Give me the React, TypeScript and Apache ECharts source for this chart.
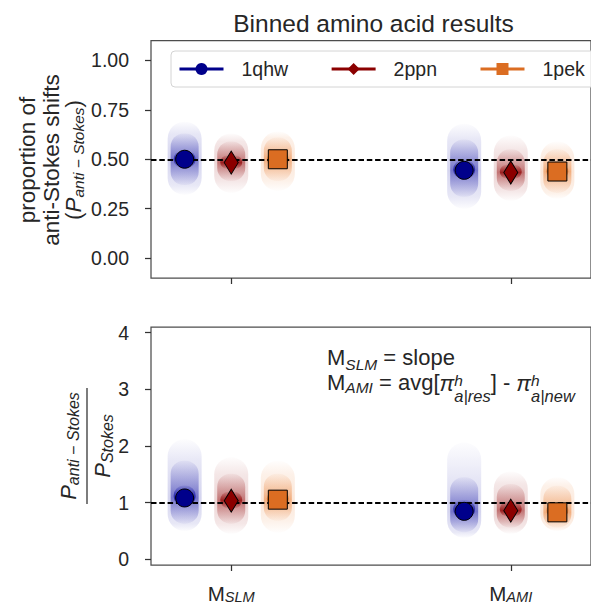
import React, { useEffect, useRef } from 'react';
import * as echarts from 'echarts';

// ---------- data ----------
const seriesNames = ['1qhw', '2ppn', '1pek'];
const categoryPositions = [0, 1];
const categorySubscripts = ['SLM', 'AMI'];
const topTicks = [0, 0.25, 0.5, 0.75, 1.0];
const bottomTicks = [0, 1, 2, 3, 4];
const topReference = 0.5;
const bottomReference = 1;

// mean markers (per category: M_SLM, M_AMI)
const topMean1qhw = [0.5, 0.444];
const topMean2ppn = [0.483, 0.433];
const topMean1pek = [0.5, 0.438];
const bottomMean1qhw = [1.083, 0.847];
const bottomMean2ppn = [1.035, 0.859];
const bottomMean1pek = [1.053, 0.829];

// sample clouds per category: [low, dense low, dense high, high]
const topCloud1qhw = [[0.32, 0.37, 0.63, 0.69], [0.25, 0.31, 0.6, 0.68]];
const topCloud2ppn = [[0.33, 0.39, 0.59, 0.63], [0.29, 0.34, 0.55, 0.62]];
const topCloud1pek = [[0.34, 0.39, 0.61, 0.64], [0.3, 0.33, 0.55, 0.59]];
const bottomCloud1qhw = [[0.5, 0.63, 1.74, 2.12], [0.38, 0.48, 1.45, 2.06]];
const bottomCloud2ppn = [[0.45, 0.63, 1.51, 1.8], [0.45, 0.56, 1.33, 1.55]];
const bottomCloud1pek = [[0.47, 0.68, 1.51, 1.74], [0.5, 0.56, 1.3, 1.45]];

// ---------- styling ----------
const FONT = '"Liberation Sans", Arial, Helvetica, sans-serif';
const TEXT = '#262626';
const SPINE = '#4d4d4d';
const colors = ['#00008b', '#8b0000', '#db6d22'];
const cloudRGB = [[20, 20, 165], [150, 18, 18], [232, 118, 38]];
const symbols = ['circle', 'diamond', 'rect'];
const symbolSizes: any[] = [18, [14, 23], 19];
const offsets = [-1 / 6, 0, 1 / 6];

const topMeans = [topMean1qhw, topMean2ppn, topMean1pek];
const bottomMeans = [bottomMean1qhw, bottomMean2ppn, bottomMean1pek];
const topClouds = [topCloud1qhw, topCloud2ppn, topCloud1pek];
const bottomClouds = [bottomCloud1qhw, bottomCloud2ppn, bottomCloud1pek];

let measureCtx: CanvasRenderingContext2D | null = null;
function measure(t: string, size: number, italic?: boolean) {
  if (!measureCtx) measureCtx = document.createElement('canvas').getContext('2d');
  if (!measureCtx) return t.length * size * 0.55;
  measureCtx.font = `${italic ? 'italic ' : ''}${size}px ${FONT}`;
  return measureCtx.measureText(t).width;
}

type Piece = { t: string; s: number; i?: boolean; dy?: number; stack?: boolean };
function mathRow(pieces: Piece[], align: 'left' | 'center', ox: number, oy: number) {
  const items: { p: Piece; x: number }[] = [];
  let x = 0;
  let pending = 0;
  for (const p of pieces) {
    const w = measure(p.t, p.s, p.i);
    items.push({ p, x });
    if (p.stack) pending = w;
    else {
      x += Math.max(w, pending);
      pending = 0;
    }
  }
  const shift = align === 'center' ? -x / 2 : 0;
  return items.map(({ p, x: px }) => ({
    type: 'text',
    x: ox + px + shift,
    y: oy + (p.dy || 0),
    silent: true,
    style: {
      text: p.t,
      fontSize: p.s,
      fontFamily: FONT,
      fontStyle: p.i ? 'italic' : 'normal',
      fill: TEXT,
      align: 'left',
      textAlign: 'left',
      verticalAlign: 'middle',
      textVerticalAlign: 'middle',
    },
  }));
}

function vGrad(stops: [number, string][]) {
  return {
    type: 'linear', x: 0, y: 0, x2: 0, y2: 1,
    colorStops: stops.map(([offset, color]) => ({ offset: Math.min(1, Math.max(0, offset)), color })),
  };
}

function renderCloud(rgb: number[]) {
  return (params: any, api: any) => {
    const x = api.value(0);
    const lo = api.value(1);
    const dLo = api.value(2);
    const m = api.value(3);
    const dHi = api.value(4);
    const hi = api.value(5);
    const pHi = api.coord([x, hi]);
    const cx = pHi[0];
    const yHi = pHi[1];
    const yLo = api.coord([x, lo])[1];
    const yDLo = api.coord([x, dLo])[1];
    const yDHi = api.coord([x, dHi])[1];
    const yM = api.coord([x, m])[1];
    const c = (a: number) => `rgba(${rgb[0]},${rgb[1]},${rgb[2]},${a})`;
    const h = yLo - yHi;
    const ch = yDLo - yDHi;
    const yCHi = (yDHi + 2 * yM) / 3;
    const yCLo = (yDLo + 2 * yM) / 3;
    const cch = yCLo - yCHi;
    return {
      type: 'group',
      children: [
        {
          type: 'rect',
          shape: { x: cx - 17, y: yHi, width: 34, height: h, r: 17 },
          style: {
            fill: vGrad([
              [0, c(0.01)],
              [(yDHi - yHi) / h, c(0.1)],
              [(yM - yHi) / h, c(0.18)],
              [(yDLo - yHi) / h, c(0.1)],
              [1, c(0.01)],
            ]),
          },
        },
        {
          type: 'rect',
          shape: { x: cx - 14, y: yDHi, width: 28, height: ch, r: 13 },
          style: {
            fill: vGrad([
              [0, c(0.04)],
              [(yM - yDHi) / ch, c(0.5)],
              [1, c(0.04)],
            ]),
          },
        },
        {
          type: 'rect',
          shape: { x: cx - 11, y: yCHi, width: 22, height: cch, r: 10 },
          style: {
            fill: vGrad([
              [0, c(0.1)],
              [(yM - yCHi) / cch, c(0.85)],
              [1, c(0.1)],
            ]),
          },
        },
      ],
    };
  };
}

function buildSeries() {
  const series: any[] = [];
  const panels = [
    { means: topMeans, clouds: topClouds, ref: topReference },
    { means: bottomMeans, clouds: bottomClouds, ref: bottomReference },
  ];
  panels.forEach((panel, p) => {
    seriesNames.forEach((name, s) => {
      series.push({
        name,
        type: 'line',
        xAxisIndex: p,
        yAxisIndex: p,
        z: 3,
        symbol: symbols[s],
        symbolSize: symbolSizes[s],
        showSymbol: true,
        showAllSymbol: true,
        lineStyle: { width: 0, color: colors[s] },
        itemStyle: { color: colors[s], borderColor: '#000', borderWidth: 1 },
        emphasis: { disabled: true },
        data: categoryPositions.map((c, i) => [c + offsets[s], panel.means[s][i]]),
        markLine:
          s === 0
            ? {
                silent: true,
                symbol: 'none',
                z: 2,
                label: { show: false },
                lineStyle: { type: [5.5, 2.8], color: '#000', width: 1.8 },
                emphasis: { disabled: true },
                data: [{ yAxis: panel.ref }],
              }
            : undefined,
      });
    });
    seriesNames.forEach((name, s) => {
      series.push({
        name: `${name} samples`,
        type: 'custom',
        xAxisIndex: p,
        yAxisIndex: p,
        z: 1,
        silent: true,
        renderItem: renderCloud(cloudRGB[s]),
        encode: { x: 0, y: 3 },
        data: categoryPositions.map((c, i) => {
          const cl = panel.clouds[s][i];
          return [c + offsets[s], cl[0], cl[1], panel.means[s][i], cl[2], cl[3]];
        }),
      });
    });
  });
  return series;
}

const tickStyle = { color: '#333', width: 1.25 };
const labelStyle = { fontSize: 19.5, color: TEXT, fontFamily: FONT };

export default function App() {
  const ref = useRef<HTMLDivElement>(null);
  useEffect(() => {
    if (!ref.current) return;
    const chart = echarts.init(ref.current, undefined, { renderer: 'svg' });
    const xAxisBase = {
      type: 'value',
      min: -0.287,
      max: 1.287,
      position: 'bottom',
      axisLine: { show: false, onZero: false },
      splitLine: { show: false },
      axisTick: { show: true, length: 6, customValues: categoryPositions, lineStyle: tickStyle },
      axisLabel: { show: false },
    };
    const option: any = {
      animation: false,
      grid: [
        { left: 151, right: -4, top: 40.5, height: 237.5, show: true, borderColor: SPINE, borderWidth: 1.25, backgroundColor: 'transparent' },
        { left: 151, right: -4, top: 327, height: 238, show: true, borderColor: SPINE, borderWidth: 1.25, backgroundColor: 'transparent' },
      ],
      xAxis: [
        { ...xAxisBase, gridIndex: 0 },
        { ...xAxisBase, gridIndex: 1 },
      ],
      yAxis: [
        {
          type: 'value', gridIndex: 0, min: -0.1, max: 1.1, position: 'left',
          axisLine: { show: false, onZero: false }, splitLine: { show: false },
          axisTick: { show: true, length: 6, customValues: topTicks, lineStyle: tickStyle },
          axisLabel: { ...labelStyle, customValues: topTicks, margin: 22, formatter: (v: number) => v.toFixed(2) },
        },
        {
          type: 'value', gridIndex: 1, min: -0.1, max: 4.1, position: 'left',
          axisLine: { show: false, onZero: false }, splitLine: { show: false },
          axisTick: { show: true, length: 6, customValues: bottomTicks, lineStyle: tickStyle },
          axisLabel: { ...labelStyle, customValues: bottomTicks, margin: 22, formatter: (v: number) => String(v) },
        },
      ],
      legend: {
        data: seriesNames,
        left: 171,
        top: 51,
        width: 440,
        orient: 'horizontal',
        itemWidth: 44,
        itemHeight: 15,
        itemGap: 42,
        padding: [8, 11, 8, 7],
        borderColor: '#d4d4d4',
        borderWidth: 1,
        borderRadius: 4,
        backgroundColor: 'rgba(255,255,255,0.85)',
        selectedMode: false,
        textStyle: { fontSize: 19.5, color: TEXT, fontFamily: FONT, padding: [0, 0, 0, 13] },
        lineStyle: { width: 3, opacity: 1, type: 'solid' },
        itemStyle: { borderWidth: 0 },
      },
      series: buildSeries(),
    };
    chart.setOption(option);

    // text elements (title, axis titles, annotation, category labels)
    const graphics: any[] = [];
    graphics.push({
      type: 'text', x: 373.5, y: 23.5, silent: true,
      style: { text: 'Binned amino acid results', fontSize: 24.5, fontFamily: FONT, fill: TEXT, align: 'center', textAlign: 'center', verticalAlign: 'middle', textVerticalAlign: 'middle' },
    });
    // top y-axis title (rotated)
    graphics.push({
      type: 'group', x: 51, y: 160, rotation: Math.PI / 2,
      children: [
        ...mathRow([{ t: 'proportion of', s: 22.5 }], 'center', 0, -24),
        ...mathRow([{ t: 'anti-Stokes shifts', s: 22.5 }], 'center', 0, 0),
        ...mathRow([
          { t: '(', s: 22.5 },
          { t: 'P', s: 22.5, i: true },
          { t: 'anti \u2212 Stokes', s: 15.5, i: true, dy: 5 },
          { t: ')', s: 22.5 },
        ], 'center', 0, 22),
      ],
    });
    // bottom y-axis title (fraction, rotated)
    graphics.push({
      type: 'group', x: 87, y: 446, rotation: Math.PI / 2,
      children: [
        ...mathRow([
          { t: 'P', s: 22, i: true },
          { t: 'anti \u2212 Stokes', s: 16, i: true, dy: 5 },
        ], 'center', 0, -19),
        { type: 'line', silent: true, shape: { x1: -58, y1: 0, x2: 58, y2: 0 }, style: { stroke: TEXT, lineWidth: 1.2 } },
        ...mathRow([
          { t: 'P', s: 22, i: true },
          { t: 'Stokes', s: 16, i: true, dy: 5 },
        ], 'center', 0, 15),
      ],
    });
    // annotation
    graphics.push({
      type: 'group', x: 327, y: 357,
      children: [
        ...mathRow([
          { t: 'M', s: 22 },
          { t: 'SLM', s: 15.5, i: true, dy: 7 },
          { t: ' = slope', s: 22 },
        ], 'left', 0, 0),
        ...mathRow([
          { t: 'M', s: 22 },
          { t: 'AMI', s: 15.5, i: true, dy: 5 },
          { t: ' = avg[', s: 22 },
          { t: '\u03c0', s: 22, i: true, dy: 1 },
          { t: 'h', s: 15.5, i: true, dy: -2, stack: true },
          { t: 'a|res', s: 16.5, i: true, dy: 14 },
          { t: '] - ', s: 22 },
          { t: '\u03c0', s: 22, i: true, dy: 1 },
          { t: 'h', s: 15.5, i: true, dy: -2, stack: true },
          { t: 'a|new', s: 16.5, i: true, dy: 14 },
        ], 'left', 0, 25),
      ],
    });
    // category labels under the bottom panel
    categoryPositions.forEach((c, i) => {
      const px = chart.convertToPixel({ xAxisIndex: 1 } as any, c) as any as number;
      graphics.push({
        type: 'group', x: px, y: 593,
        children: mathRow([
          { t: 'M', s: 20.5 },
          { t: categorySubscripts[i], s: 14.6, i: true, dy: 4.3 },
        ], 'center', 0, 0),
      });
    });
    chart.setOption({ graphic: graphics });
    return () => chart.dispose();
  }, []);
  return <div ref={ref} style={{ position: 'absolute', left: 0, top: 0, width: 591, height: 606 }} />;
}
